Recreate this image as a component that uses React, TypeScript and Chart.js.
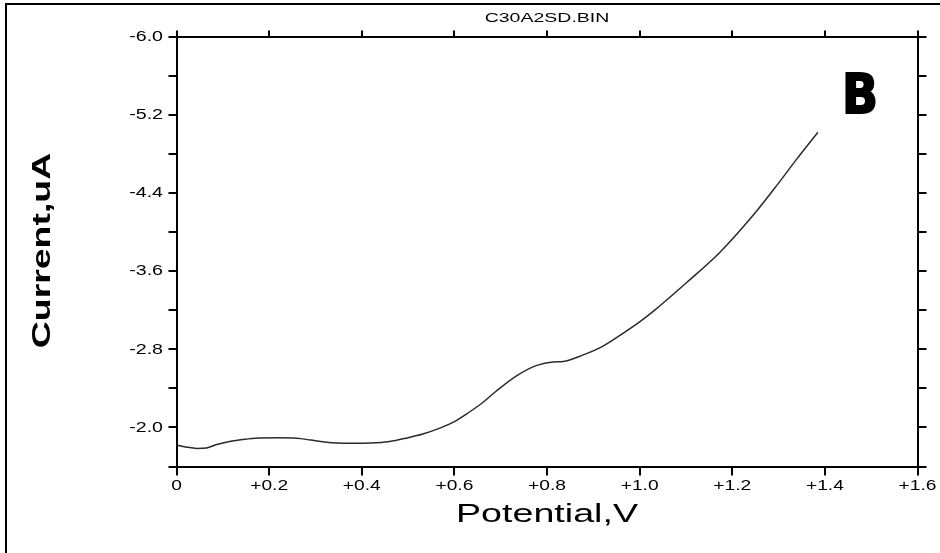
import React, { useEffect, useRef } from "react";
import { Chart, registerables } from "chart.js";

Chart.register(...registerables);

const potentials = [
  0.0, 0.02, 0.044, 0.065, 0.087, 0.12, 0.15, 0.17, 0.22, 0.26, 0.29, 0.32, 0.346, 0.38, 0.42, 0.46,
  0.5, 0.53, 0.57, 0.6, 0.63, 0.66, 0.69, 0.735, 0.778, 0.813, 0.835, 0.877, 0.92, 0.96, 1.0,
  1.03, 1.101, 1.173, 1.245, 1.3, 1.34, 1.385,
];
const currents = [
  -1.82, -1.8, -1.785, -1.79, -1.825, -1.86, -1.88, -1.89, -1.893, -1.89, -1.87, -1.85, -1.84, -1.838,
  -1.84, -1.855, -1.895, -1.93, -1.995, -2.06, -2.15, -2.25, -2.37, -2.53, -2.635, -2.67, -2.675, -2.74,
  -2.83, -2.95, -3.08, -3.19, -3.48, -3.79, -4.17, -4.5, -4.75, -5.02,
];

const xTickValues = [0, 0.2, 0.4, 0.6, 0.8, 1.0, 1.2, 1.4, 1.6];
const xTickLabels = ["0", "+0.2", "+0.4", "+0.6", "+0.8", "+1.0", "+1.2", "+1.4", "+1.6"];
const yTickValues = [-6.0, -5.6, -5.2, -4.8, -4.4, -4.0, -3.6, -3.2, -2.8, -2.4, -2.0, -1.6];
const yLabelValues = [-6.0, -5.2, -4.4, -3.6, -2.8, -2.0];
const yTickLabels = ["-6.0", "-5.2", "-4.4", "-3.6", "-2.8", "-2.0"];

const titleText = "C30A2SD.BIN";
const xTitle = "Potential,V";
const yTitle = "Current,uA";
const panelLetter = "B";

const FONT = "'Liberation Sans', Arial, sans-serif";

function stretchedText(
  ctx: CanvasRenderingContext2D,
  text: string,
  x: number,
  y: number,
  font: string,
  sx: number,
  align: CanvasTextAlign,
  baseline: CanvasTextBaseline,
  rotate = 0
) {
  ctx.save();
  ctx.translate(x, y);
  if (rotate) ctx.rotate(rotate);
  ctx.scale(sx, 1);
  ctx.font = font;
  ctx.textAlign = align;
  ctx.textBaseline = baseline;
  ctx.fillStyle = "#000";
  ctx.fillText(text, 0, 0);
  ctx.restore();
}

const textPlugin = {
  id: "textPlugin",
  afterDraw(chart: any) {
    const ctx: CanvasRenderingContext2D = chart.ctx;
    const xs = chart.scales.x;
    const ys = chart.scales.y;
    ctx.save();
    // outer frame (top and left)
    ctx.fillStyle = "#000";
    ctx.fillRect(5, 3, 935, 2);
    ctx.fillRect(5, 3, 2, 550);
    // x tick labels
    xTickValues.forEach((v, i) => {
      stretchedText(ctx, xTickLabels[i], xs.getPixelForValue(v), 490, `14px ${FONT}`, 1.37, "center", "alphabetic");
    });
    // y tick labels
    yLabelValues.forEach((v, i) => {
      stretchedText(ctx, yTickLabels[i], 163, ys.getPixelForValue(v) + 0.5, `14px ${FONT}`, 1.4, "right", "middle");
    });
    const cx = (chart.chartArea.left + chart.chartArea.right) / 2;
    // title
    stretchedText(ctx, titleText, cx, 22, `13px ${FONT}`, 1.5, "center", "alphabetic");
    // axis titles
    stretchedText(ctx, xTitle, cx, 522, `26.5px ${FONT}`, 1.42, "center", "alphabetic");
    stretchedText(ctx, yTitle, 50, 250.5, `bold 26px ${FONT}`, 1.44, "center", "alphabetic", -Math.PI / 2);
    // panel letter
    ctx.save();
    ctx.translate(842, 113);
    ctx.scale(0.86, 1);
    ctx.font = `bold 55px 'DejaVu Sans', ${FONT}`;
    ctx.textAlign = "left";
    ctx.textBaseline = "alphabetic";
    ctx.fillStyle = "#000";
    ctx.strokeStyle = "#000";
    ctx.lineWidth = 2;
    ctx.fillText(panelLetter, 0, 0);
    ctx.strokeText(panelLetter, 0, 0);
    ctx.restore();
    ctx.restore();
  },
};

function axisCfg(position: string, tickLength: number, extra: any) {
  return {
    type: "linear",
    position,
    ticks: { display: false },
    grid: {
      display: true,
      drawOnChartArea: false,
      drawTicks: true,
      tickLength,
      color: "#000",
      lineWidth: 2,
    },
    border: { display: true, color: "#000", width: 2 },
    ...extra,
  };
}

export default function App() {
  const ref = useRef<HTMLCanvasElement | null>(null);

  useEffect(() => {
    if (!ref.current) return;
    const setX = (s: any) => {
      s.ticks = xTickValues.map((value) => ({ value }));
    };
    const setY = (s: any) => {
      s.ticks = yTickValues.map((value) => ({ value }));
    };
    const chart = new Chart(ref.current, {
      type: "line",
      data: {
        datasets: [
          {
            data: potentials.map((p, i) => ({ x: p, y: currents[i] })),
            borderColor: "#2a2a2a",
            borderWidth: 1.5,
            pointRadius: 0,
            cubicInterpolationMode: "monotone",
            fill: false,
          },
        ],
      },
      options: {
        animation: false,
        responsive: false,
        devicePixelRatio: 1,
        layout: { padding: { left: 168.5, right: 13.5, top: 30.5, bottom: 77.5 } },
        plugins: { legend: { display: false }, tooltip: { enabled: false }, title: { display: false } },
        scales: {
          x: axisCfg("bottom", 9, { min: 0, max: 1.6, afterBuildTicks: setX }),
          x2: axisCfg("top", 6, { axis: "x", min: 0, max: 1.6, afterBuildTicks: setX }),
          y: axisCfg("left", 8, { min: -6, max: -1.6, reverse: true, afterBuildTicks: setY }),
          y2: axisCfg("right", 9, { axis: "y", min: -6, max: -1.6, reverse: true, afterBuildTicks: setY }),
        },
      } as any,
      plugins: [textPlugin],
    });
    return () => chart.destroy();
  }, []);

  return (
    <div style={{ position: "absolute", left: 0, top: 0, width: 940, height: 553, background: "#fff" }}>
      <canvas ref={ref} width={940} height={553} />
    </div>
  );
}
